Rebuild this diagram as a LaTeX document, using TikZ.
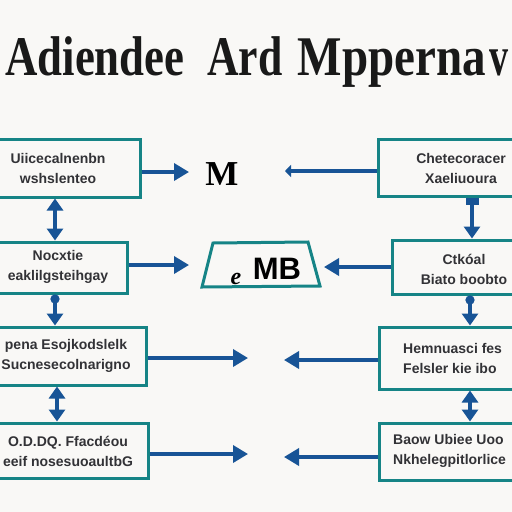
\documentclass[tikz,border=0pt]{standalone}
\usepackage{fontspec}
\setmainfont{Liberation Serif}
\newfontfamily\boxfont{Liberation Sans}
\usetikzlibrary{arrows.meta}
\definecolor{tealbox}{RGB}{22,132,134}
\definecolor{arrowblue}{RGB}{24,84,150}
\definecolor{bgcol}{RGB}{249,248,246}
\definecolor{txtcol}{RGB}{50,50,54}
\begin{document}
\begin{tikzpicture}[x=1pt,y=-1pt,
  box/.style={draw=tealbox,line width=3pt,inner sep=0pt},
  boxtext/.style={align=center,text=txtcol,inner sep=0pt,font={\boxfont\bfseries\fontsize{14}{20}\selectfont}},
  titleword/.style={anchor=base,inner sep=0pt,text=black!90,font={\bfseries\fontsize{56}{60}\selectfont}},
  arr/.style={draw=arrowblue,line width=3.5pt,-{Triangle[length=15pt,width=17pt]}},
  darr/.style={draw=arrowblue,line width=3.5pt,{Triangle[length=12pt,width=16pt]}-{Triangle[length=12pt,width=16pt]}},
  darrc/.style={draw=arrowblue,line width=3.5pt,{Circle[length=9pt]}-{Triangle[length=12pt,width=16pt]}},
  darrs/.style={draw=arrowblue,line width=3.5pt,{Square[length=7pt,width=13pt]}-{Triangle[length=12pt,width=16pt]}},
  larr/.style={draw=arrowblue,line width=3.5pt,-{Triangle[length=6pt,width=12pt]}}
]
\useasboundingbox (0,0) rectangle (512,512);
\fill[bgcol] (0,0) rectangle (512,512);
\clip (0,0) rectangle (512,512);

% title
\node[titleword,xscale=0.8] (w1) at (95,75) {Adiendee};
\node[titleword,xscale=0.78] (w2) at (245,75) {Ard};
\node[titleword,xscale=0.84] (w3) at (392,75) {Mpperna};
\node[titleword,anchor=base west,xscale=0.68] (w4) at (489,75) {v};

% left boxes
\node[box,minimum width=143pt,minimum height=58pt] (L1) at (68.5,168) {};
\node[box,minimum width=130pt,minimum height=51pt] (L2) at (62,267.5) {};
\node[box,minimum width=149pt,minimum height=58pt] (L3) at (71.5,356) {};
\node[box,minimum width=151pt,minimum height=55pt] (L4) at (72.5,450.5) {};
% right boxes
\node[box,minimum width=138pt,minimum height=57pt] (R1) at (447,167.5) {};
\node[box,minimum width=124pt,minimum height=54pt] (R2) at (454,267) {};
\node[box,minimum width=137pt,minimum height=62pt] (R3) at (447.5,358) {};
\node[box,minimum width=137pt,minimum height=57pt] (R4) at (447.5,451.5) {};

% box texts
\node[boxtext] (L1t) at (58,168) {Uiicecalnenbn\\wshslenteo};
\node[boxtext] (L2t) at (58,267) {Nocxtie\\eaklilgsteihgay};
\node[boxtext] (L3t) at (66,356) {pena Esojkodslelk\\Sucnesecolnarigno};
\node[boxtext] (L4t) at (68,451) {O.D.DQ. Ffacdéou\\eeif nosesuoaultbG};
\node[boxtext] (R1t) at (461,168) {Chetecoracer\\Xaeliuoura};
\node[boxtext] (R2t) at (464,269) {Ctkóal\\Biato boobto};
\node[boxtext,align=left,anchor=west] (R3t) at (403,358) {Hemnuasci fes\\Felsler kie ibo};
\node[boxtext,align=left,anchor=west] (R4t) at (393,451) {Baow Ubiee Uoo\\Nkhelegpitlorlice};

% middle items
\node[inner sep=0pt,font={\bfseries\fontsize{35}{38}\selectfont}] (M) at (222,174) {M};
\draw[tealbox,line width=3pt] (213,243) coordinate (tz1) -- (308,242) coordinate (tz2) -- (320,286) coordinate (tz3) -- (202,287) coordinate (tz4) -- cycle;
\node[inner sep=0pt,font={\boxfont\bfseries\fontsize{31}{34}\selectfont}] (MB) at (277,269) {MB};
\node[inner sep=0pt,font={\itshape\bfseries\fontsize{24}{26}\selectfont}] (sq) at (236,279) {e};

% arrow end coordinates
\coordinate (a1) at (189,172);
\coordinate (a2) at (189,265);
\coordinate (a3) at (248,358);
\coordinate (a4) at (248,454);
\coordinate (b1) at (285,171);
\coordinate (b2) at (324,267);
\coordinate (b3) at (284,360);
\coordinate (b4) at (284,457);
\coordinate (vl) at (55,0);
\coordinate (vl2) at (57,0);
\coordinate (vr1) at (472,0);
\coordinate (vr2) at (470,0);

% horizontal arrows
\draw[arr] (L1.east |- a1) -- (a1);
\draw[arr] (L2.east |- a2) -- (a2);
\draw[arr] (L3.east |- a3) -- (a3);
\draw[arr] (L4.east |- a4) -- (a4);
\draw[larr] (R1.west |- b1) -- (b1);
\draw[arr] (R2.west |- b2) -- (b2);
\draw[arr] (R3.west |- b3) -- (b3);
\draw[arr] (R4.west |- b4) -- (b4);

% vertical arrows
\draw[darr] (L1.south -| vl) -- (L2.north -| vl);
\draw[darrc] (L2.south -| vl) -- (L3.north -| vl);
\draw[darr] (L3.south -| vl2) -- (L4.north -| vl2);
\draw[darrs] (R1.south -| vr1) -- (R2.north -| vr1);
\draw[darrc] (R2.south -| vr2) -- (R3.north -| vr2);
\draw[darr] (R3.south -| vr2) -- (R4.north -| vr2);
\end{tikzpicture}
\end{document}
